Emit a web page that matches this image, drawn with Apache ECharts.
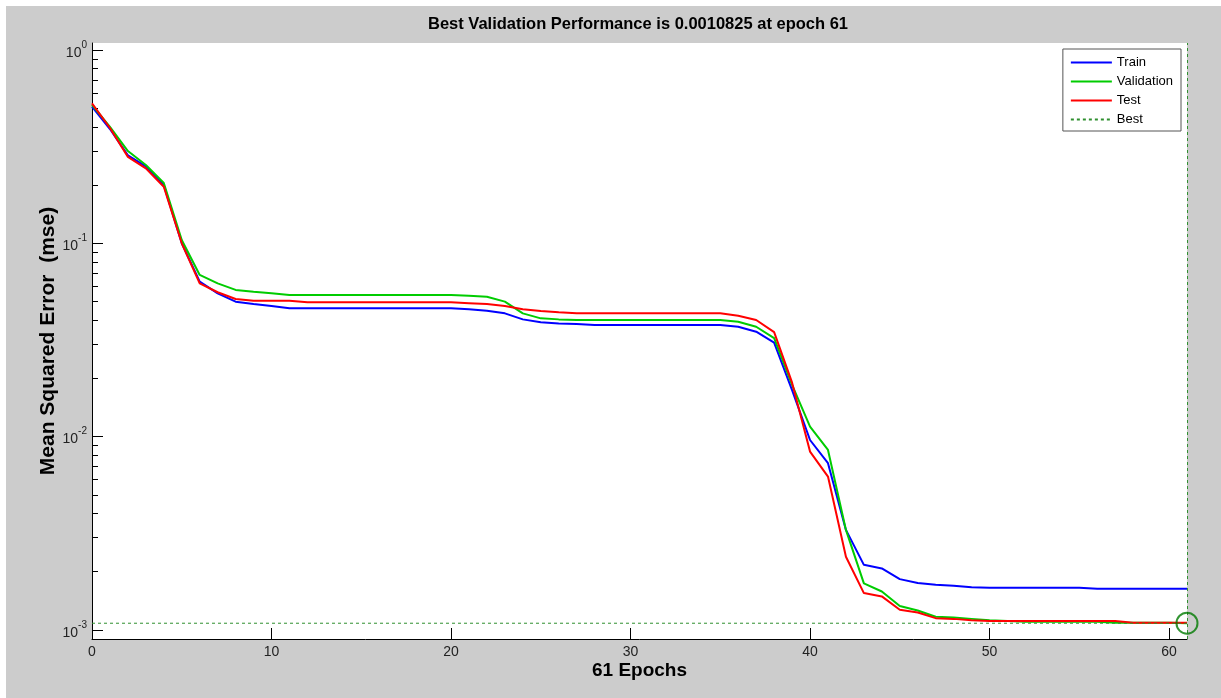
<!DOCTYPE html>
<html>
<head>
<meta charset="utf-8">
<style>
  html, body { margin: 0; padding: 0; background: #ffffff; }
  #chart { position: absolute; left: 0; top: 0; width: 1221px; height: 698px; }
</style>
<script src="https://cdn.jsdelivr.net/npm/echarts@6.0.0/dist/echarts.min.js"></script>
</head>
<body>
<div id="chart"></div>
<script>
// Training record: mean squared error per epoch (epochs 0..61)
const train = [0.51, 0.39, 0.285, 0.25, 0.20, 0.100, 0.0633, 0.0551, 0.0499, 0.0485,
  0.0474, 0.0461, 0.0461, 0.0461, 0.0461, 0.0461, 0.0461, 0.0461, 0.0461, 0.0461,
  0.0461, 0.0456, 0.0448, 0.0434, 0.0404, 0.0390, 0.0385, 0.0382, 0.0378, 0.0378,
  0.0378, 0.0378, 0.0378, 0.0378, 0.0378, 0.0378, 0.0370, 0.0349, 0.0306, 0.0174,
  0.0096, 0.00728, 0.00329, 0.00217, 0.00208, 0.00183, 0.00175, 0.00171, 0.00169, 0.00166,
  0.00165, 0.00165, 0.00165, 0.00165, 0.00165, 0.00165, 0.00163, 0.00163, 0.00163, 0.00163,
  0.00163, 0.00163];

const validation = [0.52, 0.40, 0.30, 0.254, 0.205, 0.104, 0.0686, 0.062, 0.0574, 0.0562,
  0.0551, 0.0540, 0.0540, 0.0540, 0.0540, 0.0540, 0.0540, 0.0540, 0.0540, 0.0540,
  0.0540, 0.0535, 0.0529, 0.0499, 0.0434, 0.0409, 0.0404, 0.0401, 0.0401, 0.0401,
  0.0401, 0.0401, 0.0401, 0.0401, 0.0401, 0.0401, 0.0393, 0.0370, 0.0323, 0.0185,
  0.01125, 0.00853, 0.00329, 0.00174, 0.00158, 0.00133, 0.00126, 0.00117, 0.00116, 0.00114,
  0.00112, 0.00111, 0.00110, 0.00110, 0.00110, 0.00110, 0.00110, 0.00109, 0.00109, 0.00109,
  0.00109, 0.0010825];

const test = [0.53, 0.395, 0.28, 0.244, 0.196, 0.100, 0.0621, 0.0558, 0.0515, 0.0505,
  0.0505, 0.0505, 0.0495, 0.0495, 0.0495, 0.0495, 0.0495, 0.0495, 0.0495, 0.0495,
  0.0495, 0.0490, 0.0485, 0.0474, 0.0456, 0.0447, 0.0440, 0.0434, 0.0434, 0.0434,
  0.0434, 0.0434, 0.0434, 0.0434, 0.0434, 0.0434, 0.0422, 0.0401, 0.0347, 0.0190,
  0.00836, 0.00621, 0.00239, 0.00155, 0.00149, 0.00127, 0.00123, 0.00115, 0.00114, 0.00112,
  0.00111, 0.00111, 0.00111, 0.00111, 0.00111, 0.00111, 0.00111, 0.00111, 0.00109, 0.00109,
  0.00109, 0.00109];

const bestEpoch = 61;
const bestPerf = 0.0010825;

const xTicks = [0, 10, 20, 30, 40, 50, 60];
const yMajorTicks = [0.001, 0.01, 0.1, 1];
const yMinorTicks = [];
for (let d = -3; d <= -1; d++) {
  for (let k = 2; k <= 9; k++) yMinorTicks.push(k * Math.pow(10, d));
}

const FONT = "'Liberation Sans', Arial, Helvetica, sans-serif";
const pairs = arr => arr.map((v, i) => [i, v]);

const chart = echarts.init(document.getElementById('chart'), null, { renderer: 'canvas' });

chart.setOption({
  animation: false,
  backgroundColor: '#cccccc',
  textStyle: { fontFamily: FONT },
  graphic: [
    { type: 'rect', left: 0, top: 0, shape: { width: 6, height: 698 }, style: { fill: '#ffffff' }, silent: true },
    { type: 'rect', left: 0, top: 0, shape: { width: 1221, height: 6 }, style: { fill: '#ffffff' }, silent: true },
    {
      type: 'text', x: 638, y: 24, silent: true,
      style: {
        text: 'Best Validation Performance is ' + bestPerf + ' at epoch ' + bestEpoch,
        fill: '#000', font: 'bold 16.5px ' + FONT, textAlign: 'center', textVerticalAlign: 'middle'
      }
    }
  ],
  grid: {
    left: 92, top: 43, right: 34, bottom: 59,
    show: true, backgroundColor: '#ffffff', borderWidth: 0
  },
  legend: {
    data: ['Train', 'Validation', 'Test', 'Best'],
    orient: 'vertical',
    right: 40, top: 49,
    padding: [7, 8, 5, 7],
    itemGap: 6,
    itemWidth: 41,
    itemHeight: 13,
    backgroundColor: '#ffffff',
    borderColor: '#555555',
    borderWidth: 1,
    itemStyle: { color: 'rgba(0,0,0,0)', borderColor: 'rgba(0,0,0,0)', borderWidth: 0 },
    textStyle: { fontSize: 13, color: '#000', fontFamily: FONT }
  },
  xAxis: {
    type: 'value', min: 0, max: 61,
    name: bestEpoch + ' Epochs',
    nameLocation: 'middle', nameGap: 22, nameMoveOverlap: false,
    nameTextStyle: { fontSize: 19, fontWeight: 'bold', color: '#000', fontFamily: FONT },
    axisLine: { show: true, lineStyle: { color: '#000', width: 1 } },
    axisTick: { show: true, inside: true, length: 11, customValues: xTicks, lineStyle: { color: '#000' } },
    axisLabel: { customValues: xTicks, fontSize: 14, color: '#222', margin: 6, fontFamily: FONT },
    splitLine: { show: false }
  },
  yAxis: [
    {
      type: 'log', logBase: 10, min: 0.000897, max: 1.087, position: 'left',
      name: 'Mean Squared Error  (mse)',
      nameLocation: 'middle', nameGap: 33, nameMoveOverlap: false,
      nameTextStyle: { fontSize: 21, fontWeight: 'bold', color: '#000', fontFamily: FONT },
      axisLine: { show: true, lineStyle: { color: '#000', width: 1 } },
      axisTick: { show: true, inside: true, length: 11, customValues: yMajorTicks, lineStyle: { color: '#000' } },
      axisLabel: {
        customValues: yMajorTicks, margin: 5,
        formatter: v => '{b|10}{s|' + Math.round(Math.log10(v)) + '}',
        rich: {
          b: { fontSize: 14, color: '#222', fontFamily: FONT, padding: [6, 0, 0, 0], verticalAlign: 'bottom' },
          s: { fontSize: 10, color: '#222', fontFamily: FONT, verticalAlign: 'top' }
        }
      },
      splitLine: { show: false }
    },
    {
      type: 'log', logBase: 10, min: 0.000897, max: 1.087, position: 'left', offset: 0,
      axisLine: { show: false },
      axisTick: { show: true, inside: true, length: 6, customValues: yMinorTicks, lineStyle: { color: '#000' } },
      axisLabel: { show: false },
      splitLine: { show: false }
    }
  ],
  series: [
    {
      name: 'Train', type: 'line', data: pairs(train), symbol: 'none', z: 3,
      lineStyle: { color: '#0000ff', width: 2 }, itemStyle: { color: '#0000ff' }
    },
    {
      name: 'Validation', type: 'line', data: pairs(validation), symbol: 'none', z: 3,
      lineStyle: { color: '#00cc00', width: 2 }, itemStyle: { color: '#00cc00' }
    },
    {
      name: 'Test', type: 'line', data: pairs(test), symbol: 'none', z: 3,
      lineStyle: { color: '#ff0000', width: 2 }, itemStyle: { color: '#ff0000' }
    },
    {
      name: 'Best', type: 'line', data: [[0, bestPerf], [61, bestPerf]], symbol: 'none', z: 4,
      lineStyle: { color: '#2f8f2f', width: 1, type: [3, 3] }, itemStyle: { color: '#2f8f2f' },
      markLine: {
        silent: true, symbol: 'none', label: { show: false },
        lineStyle: { color: '#2f8f2f', width: 1, type: [3, 3] },
        data: [{ xAxis: bestEpoch }]
      }
    },
    {
      name: 'Best point', type: 'scatter', data: [[bestEpoch, bestPerf]], z: 5,
      symbol: 'circle', symbolSize: 21, clip: false,
      itemStyle: { color: 'rgba(0,0,0,0)', borderColor: '#007a00', borderWidth: 2 }
    }
  ]
});
</script>
</body>
</html>
